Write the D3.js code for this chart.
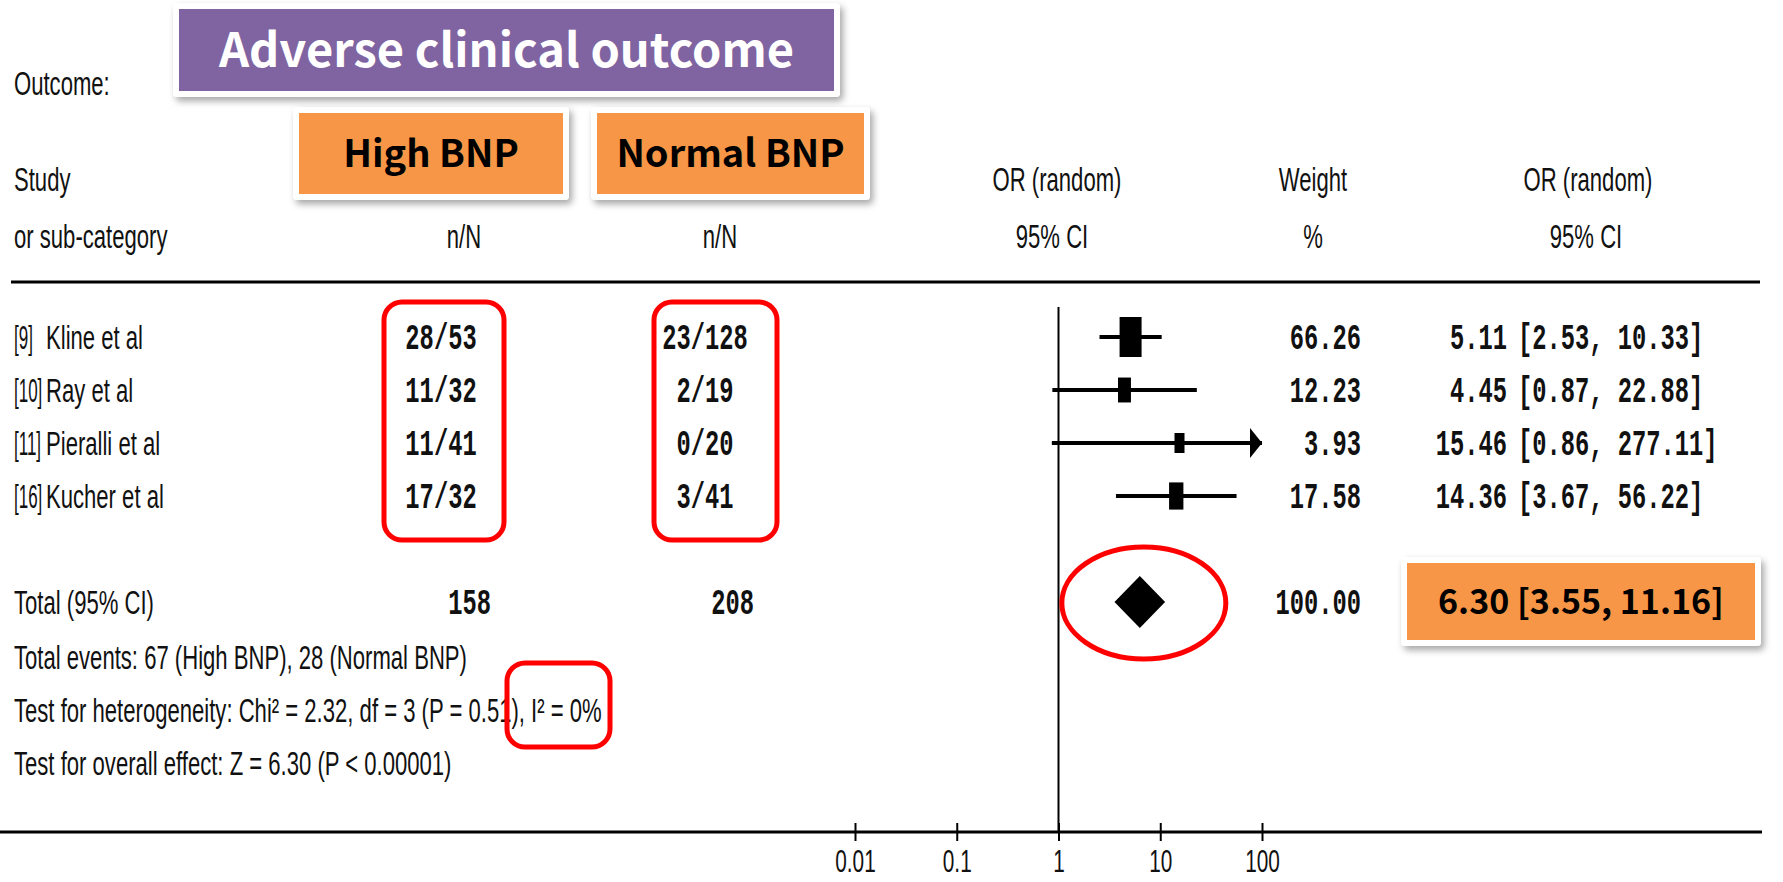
<!DOCTYPE html>
<html>
<head>
<meta charset="utf-8">
<script src="https://cdn.jsdelivr.net/npm/d3@7"></script>
<style>
  body { margin: 0; background: #fff; }
  svg { display: block; }
</style>
</head>
<body>
<div class="vis-forest"></div>
<script>
// study rows
const refs = ['[9]', '[10]', '[11]', '[16]'];
const authors = ['Kline et al', 'Ray et al', 'Pieralli et al', 'Kucher et al'];
const highBnp = ['28/53', '11/32', '11/41', '17/32'];
const normalBnp = ['23/128', '2/19', '0/20', '3/41'];
const weights = [66.26, 12.23, 3.93, 17.58];
const orEst = [5.11, 4.45, 15.46, 14.36];
const orLow = [2.53, 0.87, 0.86, 3.67];
const orHigh = [10.33, 22.88, 277.11, 56.22];

// pooled result
const totalN = [158, 208];
const totalWeight = 100.00;
const totalOr = [6.30, 3.55, 11.16];

const ticks = [0.01, 0.1, 1, 10, 100];

const footLines = [
  'Total events: 67 (High BNP), 28 (Normal BNP)',
  'Test for heterogeneity: Chi\u00b2 = 2.32, df = 3 (P = 0.51), I\u00b2 = 0%',
  'Test for overall effect: Z = 6.30 (P < 0.00001)',
];

const width = 1783;
const height = 882;
const sansScale = 0.65;
const monoScale = 0.66;

const svg = d3.select('.vis-forest')
  .append('svg')
  .attr('width', width)
  .attr('height', height);

const defs = svg.append('defs');
defs.append('filter')
  .attr('id', 'shadow')
  .attr('x', '-10%').attr('y', '-20%')
  .attr('width', '130%').attr('height', '160%')
  .append('feDropShadow')
  .attr('dx', 3).attr('dy', 4)
  .attr('stdDeviation', 3.5)
  .attr('flood-color', '#000')
  .attr('flood-opacity', 0.35);

// squeezed text, the scan is narrow
const label = (x, y, str, o = {}) => svg.append('text')
  .attr('transform', `translate(${x},${y}) scale(${o.sx || (o.mono ? monoScale : sansScale)},1)`)
  .attr('text-anchor', o.anchor || 'start')
  .style('font-family', o.mono ? '"Liberation Mono", monospace' : '"Liberation Sans", Arial, sans-serif')
  .style('font-size', o.mono ? '36px' : '34px')
  .style('font-weight', o.mono ? 'bold' : 'normal')
  .attr('fill', '#111')
  .text(str);

const x = d3.scaleLog().domain([0.01, 100]).range([855, 1262]);
const y = d3.scalePoint().domain(d3.range(refs.length)).range([337, 496]);
const totalY = 602;

// headers
label(14, 95, 'Outcome:');
label(14, 191, 'Study');
label(14, 248, 'or sub-category');
label(464, 248, 'n/N', { anchor: 'middle' });
label(720, 248, 'n/N', { anchor: 'middle' });
label(1057, 191, 'OR (random)', { anchor: 'middle' });
label(1052, 248, '95% CI', { anchor: 'middle' });
label(1313, 191, 'Weight', { anchor: 'middle' });
label(1313, 248, '%', { anchor: 'middle' });
label(1588, 191, 'OR (random)', { anchor: 'middle' });
label(1586, 248, '95% CI', { anchor: 'middle' });

svg.append('line')
  .attr('x1', 11).attr('x2', 1760)
  .attr('y1', 282).attr('y2', 282)
  .attr('stroke', '#000').attr('stroke-width', 3);

// study rows text
refs.forEach((r, i) => {
  const yy = y(i) + 12;
  label(14, yy, r, { sx: 0.5 });
  label(46, yy, authors[i]);
  label(441, yy, highBnp[i], { mono: true, anchor: 'middle' });
  label(705, yy, normalBnp[i], { mono: true, anchor: 'middle' });
  label(1361, yy, weights[i].toFixed(2), { mono: true, anchor: 'end' });
  label(1507, yy, orEst[i].toFixed(2), { mono: true, anchor: 'end' });
  label(1518, yy, `[${orLow[i].toFixed(2)}, ${orHigh[i].toFixed(2)}]`, { mono: true });
});

label(14, totalY + 12, 'Total (95% CI)');
label(491, totalY + 12, String(totalN[0]), { mono: true, anchor: 'end' });
label(754, totalY + 12, String(totalN[1]), { mono: true, anchor: 'end' });
label(1361, totalY + 12, totalWeight.toFixed(2), { mono: true, anchor: 'end' });

footLines.forEach((t, i) => label(14, 669 + i * 53, t));

// reference line at OR = 1
svg.append('line')
  .attr('x1', x(1)).attr('x2', x(1))
  .attr('y1', 307).attr('y2', 832)
  .attr('stroke', '#000').attr('stroke-width', 2);

// study CIs and boxes
const boxW = d3.scaleLinear()
  .domain([Math.sqrt(d3.min(weights)), Math.sqrt(d3.max(weights))])
  .range([10, 22]);
const boxH = d3.scaleLinear()
  .domain([Math.sqrt(d3.min(weights)), Math.sqrt(d3.max(weights))])
  .range([20, 40]);

const rows = svg.append('g');
refs.forEach((r, i) => {
  const hi = Math.min(orHigh[i], x.domain()[1]);
  rows.append('line')
    .attr('x1', x(orLow[i])).attr('x2', x(hi))
    .attr('y1', y(i)).attr('y2', y(i))
    .attr('stroke', '#000').attr('stroke-width', 4);
  if (orHigh[i] > x.domain()[1]) {
    const tip = x(hi);
    rows.append('path')
      .attr('d', `M${tip},${y(i)} L${tip - 12},${y(i) - 15} L${tip - 12},${y(i) + 15} Z`)
      .attr('fill', '#000');
  }
  const w = boxW(Math.sqrt(weights[i]));
  const h = boxH(Math.sqrt(weights[i]));
  rows.append('rect')
    .attr('x', x(orEst[i]) - w / 2).attr('y', y(i) - h / 2)
    .attr('width', w).attr('height', h)
    .attr('fill', '#000');
});

// pooled diamond
svg.append('path')
  .attr('d', `M${x(totalOr[1])},${totalY} L${x(totalOr[0])},${totalY - 26} L${x(totalOr[2])},${totalY} L${x(totalOr[0])},${totalY + 26} Z`)
  .attr('fill', '#000');

// bottom axis
svg.append('line')
  .attr('x1', 0).attr('x2', 1762)
  .attr('y1', 832).attr('y2', 832)
  .attr('stroke', '#000').attr('stroke-width', 3);

const axis = svg.append('g')
  .attr('transform', 'translate(0,832)')
  .call(d3.axisBottom(x).tickValues(ticks).tickFormat((d) => String(d)).tickSizeOuter(0));
axis.select('.domain').remove();
axis.selectAll('.tick line')
  .attr('y1', -9).attr('y2', 9)
  .attr('stroke', '#000').attr('stroke-width', 2);
axis.selectAll('.tick text')
  .attr('y', 40).attr('dy', 0)
  .attr('transform', `scale(${sansScale},1)`)
  .attr('fill', '#111')
  .style('font-family', '"Liberation Sans", Arial, sans-serif')
  .style('font-size', '32px');

// highlight boxes
const callout = (x0, y0, w, h, fill, text, size, color) => {
  const g = svg.append('g');
  g.append('rect')
    .attr('x', x0 - 6).attr('y', y0 - 6)
    .attr('width', w + 12).attr('height', h + 12)
    .attr('rx', 4)
    .attr('fill', '#fff')
    .attr('filter', 'url(#shadow)');
  g.append('rect')
    .attr('x', x0).attr('y', y0)
    .attr('width', w).attr('height', h)
    .attr('fill', fill);
  g.append('text')
    .attr('x', x0 + w / 2).attr('y', y0 + h / 2)
    .attr('dy', '0.36em')
    .attr('text-anchor', 'middle')
    .attr('fill', color)
    .style('font-family', '"Noto Sans CJK KR", "Open Sans", sans-serif')
    .style('font-weight', 'bold')
    .style('font-size', `${size}px`)
    .text(text);
};

callout(179, 9, 655, 82, '#8064A2', 'Adverse clinical outcome', 47, '#fff');
callout(299, 113, 264, 81, '#F79646', 'High BNP', 38, '#000');
callout(597, 113, 267, 81, '#F79646', 'Normal BNP', 38, '#000');
callout(1407, 563, 348, 77, '#F79646', `${totalOr[0].toFixed(2)} [${totalOr[1].toFixed(2)}, ${totalOr[2].toFixed(2)}]`, 34, '#000');

// red marks
const redBox = (x0, y0, w, h) => svg.append('rect')
  .attr('x', x0).attr('y', y0)
  .attr('width', w).attr('height', h)
  .attr('rx', 18)
  .attr('fill', 'none')
  .attr('stroke', '#f00')
  .attr('stroke-width', 5);

redBox(384, 302, 120, 238);
redBox(654, 302, 123, 238);
redBox(507, 663, 103, 84);

svg.append('ellipse')
  .attr('cx', x(totalOr[0]) + 4).attr('cy', totalY + 1)
  .attr('rx', 82).attr('ry', 56)
  .attr('fill', 'none')
  .attr('stroke', '#f00')
  .attr('stroke-width', 5);
</script>
</body>
</html>
